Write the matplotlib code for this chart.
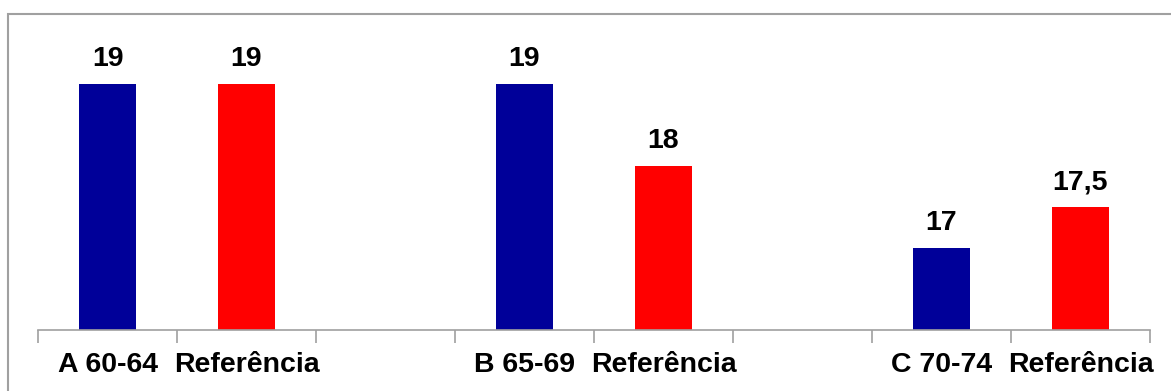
import matplotlib.pyplot as plt
from matplotlib.patches import Rectangle

plt.rcParams['font.family'] = ['Liberation Sans', 'DejaVu Sans']

categories = ["A 60-64", "Referência", "", "B 65-69", "Referência", "", "C 70-74", "Referência"]
values = [19, 19, None, 19, 18, None, 17, 17.5]
colors = ["#000099", "#ff0000", "none", "#000099", "#ff0000", "none", "#000099", "#ff0000"]

fig = plt.figure(figsize=(11.71, 3.91), dpi=100)
W, H = 1171, 391
ax = fig.add_axes([38 / W, (H - 330) / H, (1150 - 38) / W, 328 / H])

# outer chart frame (runs off the right and bottom of the picture)
fig.patches.append(Rectangle((8 / W, -0.1), 1.2, (H - 14) / H + 0.1,
                             transform=fig.transFigure, fill=False,
                             edgecolor="#a0a0a0", linewidth=1.5))

xs = [i for i, v in enumerate(values) if v is not None]
ys = [values[i] for i in xs]
cs = [colors[i] for i in xs]
bars = ax.bar(xs, ys, width=0.405, color=cs, bottom=0)

ax.set_ylim(16, 20)
ax.set_xlim(-0.5, len(categories) - 0.5)

ax.bar_label(bars, labels=[("%g" % v).replace(".", ",") for v in ys],
             padding=8.5, fontsize=20.5, fontweight="bold")

ax.set_xticks(range(len(categories)))
ax.set_xticklabels(categories, fontsize=20.5, fontweight="bold")
ax.set_xticks([i - 0.5 for i in range(len(categories) + 1)], minor=True)
ax.tick_params(axis="x", which="major", length=0, pad=16)
ax.tick_params(axis="x", which="minor", length=9, color="#a0a0a0", width=1.2)
ax.set_yticks([])
for s in ["left", "top", "right"]:
    ax.spines[s].set_visible(False)
ax.spines["bottom"].set_color("#a0a0a0")
ax.spines["bottom"].set_linewidth(1.2)

fig.savefig("out.png", dpi=100)
